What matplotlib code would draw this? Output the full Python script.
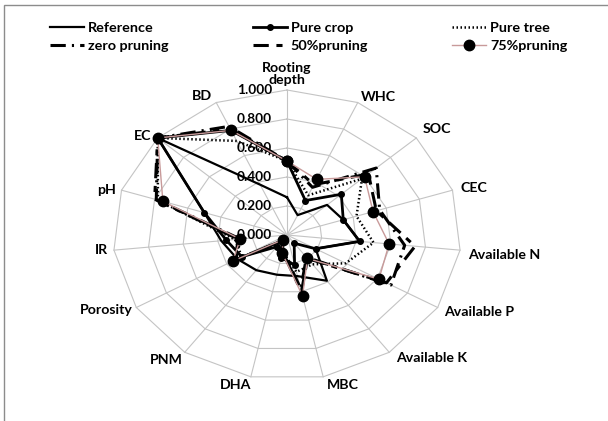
import numpy as np
import matplotlib
matplotlib.use("Agg")
import matplotlib.pyplot as plt
from matplotlib.patches import Rectangle

# categories, clockwise from the top
CATEGORIES = ["Rooting\ndepth", "WHC", "SOC", "CEC", "Available N", "Available P",
              "Available K", "MBC", "DHA", "PNM", "Porosity", "IR", "pH", "EC", "BD"]

REFERENCE = [0.26, 0.15, 0.31, 0.34, 0.42, 0.19, 0.39, 0.29, 0.28, 0.30, 0.33, 0.38, 0.50, 1.00, 0.38]
PURE_CROP = [0.51, 0.26, 0.42, 0.34, 0.42, 0.19, 0.07, 0.21, 0.16, 0.10, 0.30, 0.35, 0.50, 1.00, 0.79]
PURE_TREE = [0.51, 0.30, 0.58, 0.42, 0.50, 0.39, 0.25, 0.26, 0.12, 0.08, 0.30, 0.30, 0.78, 1.00, 0.71]
ZERO_PRUN = [0.51, 0.36, 0.69, 0.56, 0.68, 0.69, 0.19, 0.38, 0.11, 0.05, 0.34, 0.27, 0.79, 1.00, 0.82]
PRUN_50 = [0.51, 0.38, 0.63, 0.54, 0.74, 0.66, 0.20, 0.40, 0.12, 0.05, 0.35, 0.28, 0.80, 1.00, 0.80]
PRUN_75 = [0.51, 0.42, 0.60, 0.52, 0.59, 0.61, 0.20, 0.43, 0.13, 0.04, 0.36, 0.27, 0.75, 1.00, 0.79]

RINGS = [0.0, 0.2, 0.4, 0.6, 0.8, 1.0]
RING_LABELS = ["0.000", "0.200", "0.400", "0.600", "0.800", "1.000"]

W, H = 608, 421
CX, CY = 287, 235      # chart centre, pixels
RX, RY = 174, 145      # pixels per unit radius (chart is stretched)

plt.rcParams["font.family"] = ["Lato", "DejaVu Sans"]
plt.rcParams["font.weight"] = "bold"

theta = np.deg2rad(90 - 24 * np.arange(len(CATEGORIES)))


def xy(vals):
    v = np.asarray(vals, dtype=float)
    v = np.append(v, v[0])
    t = np.append(theta, theta[0])
    return v * np.cos(t), v * np.sin(t)


fig = plt.figure(figsize=(W / 100, H / 100), dpi=100)
ax = fig.add_axes([0, 0, 1, 1])
ax.set_xlim(-CX / RX, (W - CX) / RX)
ax.set_ylim(-(H - CY) / RY, CY / RY)
ax.axis("off")

# frame of the chart area
fig.patches.append(Rectangle((4 / W, -0.1), 1.1, (H - 5) / H + 0.1, transform=fig.transFigure,
                             fill=False, edgecolor="#8c8c8c", linewidth=1.0))

# grid
grid_c = "#c4c4c4"
for r in RINGS[1:]:
    gx, gy = xy([r] * len(CATEGORIES))
    ax.plot(gx, gy, color=grid_c, lw=0.8, zorder=1)
for t in theta:
    ax.plot([0, np.cos(t)], [0, np.sin(t)], color=grid_c, lw=0.8, zorder=1)

for r, lab in zip(RINGS, RING_LABELS):
    ax.text(-15 / RX, r, lab, ha="right", va="center", fontsize=9.8, fontweight="bold", zorder=2)

# category labels: (ha, va, dx px, dy px) offsets from the outer vertex
label_pos = [
    ("center", "bottom", 0, 4), ("left", "bottom", 3, 0), ("left", "bottom", 6, 3),
    ("left", "center", 8, 2), ("left", "center", 8, -5), ("left", "center", 6, -4),
    ("left", "center", 7, -6), ("left", "top", 4, -2), ("right", "top", 0, -2),
    ("right", "top", -2, -2), ("right", "center", -4, -2), ("right", "center", -6, 0),
    ("right", "center", -6, 0), ("right", "center", -6, 2), ("right", "bottom", -4, 1),
]
for name, t, (ha, va, dx, dy) in zip(CATEGORIES, theta, label_pos):
    ax.annotate(name, (np.cos(t), np.sin(t)), xytext=(dx * 0.72, dy * 0.72),
                textcoords="offset points", ha=ha, va=va, fontsize=10.2,
                fontweight="bold", linespacing=0.95, multialignment="center")

series = [
    ("Reference", REFERENCE, dict(color="black", lw=1.6, ls="-")),
    ("Pure crop", PURE_CROP, dict(color="black", lw=2.0, ls="-", marker="o", ms=4)),
    ("Pure tree", PURE_TREE, dict(color="black", lw=1.8, ls=(0, (0.6, 1.0)))),
    ("zero pruning", ZERO_PRUN, dict(color="black", lw=2.2, ls=(0, (5, 2, 0.7, 2)))),
    ("50%pruning", PRUN_50, dict(color="black", lw=2.2, ls=(0, (5, 2.5, 2, 2.5)))),
    ("75%pruning", PRUN_75, dict(color="#c89a9a", lw=1.0, ls="-", marker="o", ms=7.5,
                                  markerfacecolor="black", markeredgecolor="black")),
]
handles = {}
for i, (name, vals, style) in enumerate(series):
    sx, sy = xy(vals)
    (ln,) = ax.plot(sx, sy, label=name, zorder=3 + i, **style)
    handles[name] = ln

order = ["Reference", "zero pruning", "Pure crop", "50%pruning", "Pure tree", "75%pruning"]
fig.legend([handles[n] for n in order], order, ncol=3, loc="upper left",
           bbox_to_anchor=(50 / W, 1 - 22 / H), frameon=False, fontsize=10.4,
           handlelength=2.35, handletextpad=0.3, columnspacing=5.8,
           labelspacing=0.42, numpoints=1, borderaxespad=0, borderpad=0)

fig.savefig("out.png", dpi=100)
